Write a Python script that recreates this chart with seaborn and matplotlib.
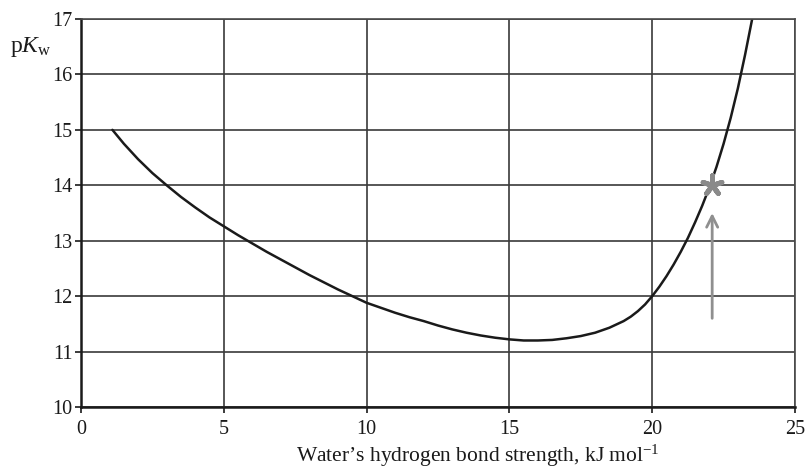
import matplotlib
matplotlib.use("Agg")
import matplotlib.pyplot as plt
import seaborn as sns
import pandas as pd

# Data
bond_strength = [1.1, 1.5, 2, 2.5, 3, 3.5, 4, 4.5, 5, 5.5, 6, 6.5, 7, 7.5, 8, 8.5,
                 9, 9.5, 10, 10.5, 11, 11.5, 12, 12.5, 13, 13.5, 14, 14.5, 15, 15.5,
                 16, 16.5, 17, 17.5, 18, 18.5, 19, 19.25, 19.5, 19.75, 20, 20.25,
                 20.5, 20.75, 21, 21.25, 21.5, 21.75, 22, 22.25, 22.5, 22.75, 23,
                 23.25, 23.5]
pkw = [15.0, 14.75, 14.47, 14.22, 14.0, 13.79, 13.6, 13.42, 13.26, 13.1, 12.95,
       12.8, 12.66, 12.52, 12.38, 12.25, 12.12, 12.0, 11.88, 11.79, 11.7, 11.62,
       11.55, 11.47, 11.4, 11.34, 11.29, 11.25, 11.22, 11.2, 11.2, 11.21, 11.24,
       11.28, 11.34, 11.43, 11.55, 11.63, 11.73, 11.85, 12.0, 12.17, 12.36, 12.57,
       12.8, 13.05, 13.33, 13.63, 13.96, 14.33, 14.75, 15.22, 15.75, 16.35, 17.0]
marker_x = [22.1]
marker_y = [14.0]
arrow_x = 22.1
arrow_y_start = 11.6
arrow_y_end = 13.5

x_ticks = [0, 5, 10, 15, 20, 25]
y_ticks = [10, 11, 12, 13, 14, 15, 16, 17]

sns.set_theme(style="white")
plt.rcParams["font.family"] = ["Liberation Serif", "DejaVu Serif"]
plt.rcParams["mathtext.fontset"] = "custom"
plt.rcParams["mathtext.rm"] = "Liberation Serif"
plt.rcParams["mathtext.it"] = "Liberation Serif:italic"

fig = plt.figure(figsize=(8.05, 4.7), dpi=100)
ax = fig.add_axes([81 / 805, 1 - 407 / 470, (795 - 81) / 805, (407 - 19) / 470])

df = pd.DataFrame({"x": bond_strength, "y": pkw})
sns.lineplot(data=df, x="x", y="y", ax=ax, color="#1a1a1a", linewidth=1.8, sort=False)

mk = pd.DataFrame({"x": marker_x, "y": marker_y})
sns.scatterplot(data=mk, x="x", y="y", ax=ax, marker=(5, 2, 0), s=200,
                color="#8a8a8a", linewidth=3.6, edgecolor="#8a8a8a", zorder=5)

ax.annotate("", xy=(arrow_x, arrow_y_end), xytext=(arrow_x, arrow_y_start),
            arrowprops=dict(arrowstyle="->", color="#8f8f8f", lw=2,
                            mutation_scale=20, shrinkA=0, shrinkB=0))

ax.set_xlim(0, 25)
ax.set_ylim(10, 17)
ax.set_xticks(x_ticks)
ax.set_yticks(y_ticks)
ax.grid(True, color="#3a3a3a", linewidth=1.2)
ax.set_axisbelow(True)

for side in ["top", "right"]:
    ax.spines[side].set_color("#4a4a4a")
    ax.spines[side].set_linewidth(1.2)
for side in ["left", "bottom"]:
    ax.spines[side].set_color("#1a1a1a")
    ax.spines[side].set_linewidth(1.8)

ax.tick_params(axis="both", which="major", direction="out", length=4, width=1.2,
               color="#1a1a1a", labelsize=14.5, labelcolor="#1a1a1a")
ax.tick_params(axis="x", pad=5, bottom=True)
ax.tick_params(axis="y", pad=2, left=True)

ax.set_xlabel("Water\u2019s hydrogen bond strength, kJ mol$^{\\mathrm{\u22121}}$",
              fontsize=15.5, color="#1a1a1a")
ax.xaxis.set_label_coords((478 - 81) / 714, -(469 - 407) / 388)
ax.xaxis.label.set_va("bottom")
ax.set_ylabel("")
fig.text(10 / 805, 1 - 47 / 470, "p$K_{\\mathrm{w}}$", fontsize=17,
         color="#1a1a1a", ha="left", va="center")

fig.savefig("out.png", dpi=100)
